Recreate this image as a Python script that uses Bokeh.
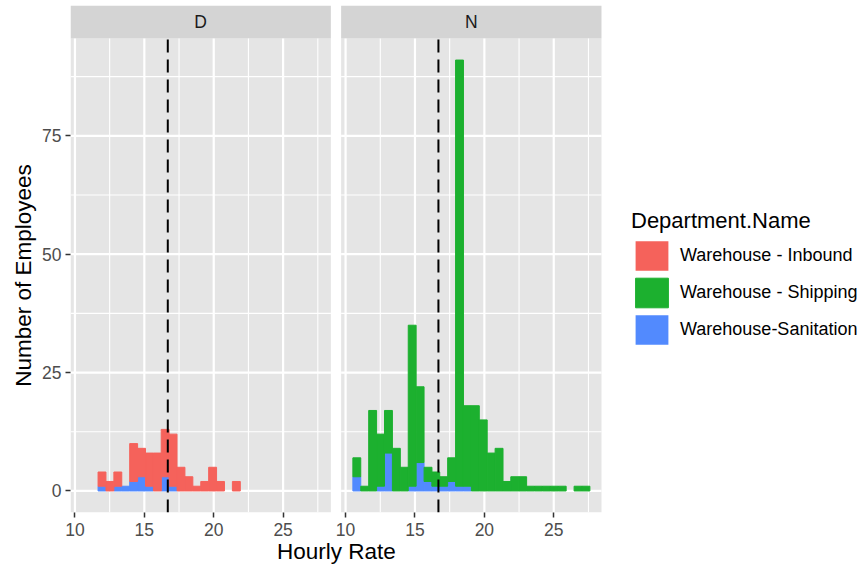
from bokeh.plotting import figure
from bokeh.models import Range1d, FixedTicker, ColumnDataSource, Legend, LegendItem, Title
from bokeh.core.properties import value
from bokeh.embed import file_html
from bokeh.resources import INLINE

# ---------------- data ----------------
bin_centers = [10.81, 11.38, 11.95, 12.52, 13.09, 13.66, 14.23, 14.80, 15.37, 15.94,
               16.50, 17.07, 17.64, 18.21, 18.78, 19.35, 19.92, 20.49, 21.06, 21.63,
               22.19, 22.76, 23.33, 23.90, 24.47, 25.04, 25.61, 26.18, 26.75, 27.32]
bin_width = 0.569
departments = ["Warehouse - Inbound", "Warehouse - Shipping", "Warehouse-Sanitation"]
facets = ["D", "N"]

D_inbound    = [0, 0, 3, 2, 3, 0, 8, 6, 7, 8, 10, 11, 5, 3, 1, 2, 5, 2, 0, 2, 0, 0, 0, 0, 0, 0, 0, 0, 0, 0]
D_shipping   = [0, 0, 0, 0, 0, 0, 0, 0, 0, 0, 0, 0, 0, 0, 0, 0, 0, 0, 0, 0, 0, 0, 0, 0, 0, 0, 0, 0, 0, 0]
D_sanitation = [0, 0, 1, 0, 1, 1, 2, 3, 1, 0, 3, 1, 0, 0, 0, 0, 0, 0, 0, 0, 0, 0, 0, 0, 0, 0, 0, 0, 0, 0]

N_inbound    = [0, 0, 0, 0, 0, 0, 0, 0, 0, 0, 0, 0, 0, 0, 0, 0, 0, 0, 0, 0, 0, 0, 0, 0, 0, 0, 0, 0, 0, 0]
N_shipping   = [4, 1, 17, 11, 9, 9, 5, 34, 16, 3, 3, 2, 5, 90, 17, 18, 15, 8, 9, 2, 3, 3, 1, 1, 1, 1, 1, 0, 1, 1]
N_sanitation = [3, 0, 0, 1, 8, 0, 0, 1, 6, 2, 1, 1, 2, 1, 1, 0, 0, 0, 0, 0, 0, 0, 0, 0, 0, 0, 0, 0, 0, 0]

mean_rate = 16.69

x_ticks = [10, 15, 20, 25]
x_minor = [12.5, 17.5, 22.5, 27.5]
y_ticks = [0, 25, 50, 75]
y_minor = [12.5, 37.5, 62.5, 87.5]

# ---------------- styling / layout ----------------
RED, GREEN, BLUE = "#F5625B", "#1CB02F", "#528AFE"
PANEL_BG, STRIP_BG = "#E5E5E5", "#D4D4D4"
FONT = "Liberation Sans"

XL, XR = 9.68, 28.44          # panel x limits
YB, YT = -4.55, 95.55         # panel y limits
STRIP_TOP = 102.52            # top of facet strip
OFF = 19.5                    # horizontal shift of the second facet
X_END = 66.53                 # right end of the drawing area (legend lives there)

p = figure(width=859, height=569, output_backend="svg", toolbar_location=None, title=None,
           x_range=Range1d(XL, X_END), y_range=Range1d(YB, STRIP_TOP),
           min_border_left=70, min_border_right=0, min_border_top=5, min_border_bottom=57,
           background_fill_color="white", border_fill_color="white")
p.outline_line_color = None
p.extra_x_ranges = {"N": Range1d(XL - OFF, X_END - OFF)}
p.xgrid.visible = False
p.ygrid.visible = False

panel_data = {
    "D": ("default", D_inbound, D_shipping, D_sanitation),
    "N": ("N", N_inbound, N_shipping, N_sanitation),
}
stacks = {}
for facet in facets:
    rname, inb, shp, san = panel_data[facet]
    p.quad(left=[XL], right=[XR], bottom=[YB], top=[YT], fill_color=PANEL_BG,
           line_color=None, x_range_name=rname)
    p.quad(left=[XL], right=[XR], bottom=[YT], top=[STRIP_TOP], fill_color=STRIP_BG,
           line_color=None, x_range_name=rname)
    # grid
    p.segment(x0=x_minor, x1=x_minor, y0=YB, y1=YT, line_color="white", line_width=1.1,
              x_range_name=rname)
    p.segment(x0=XL, x1=XR, y0=y_minor, y1=y_minor, line_color="white", line_width=1.1,
              x_range_name=rname)
    p.segment(x0=x_ticks, x1=x_ticks, y0=YB, y1=YT, line_color="white", line_width=2.2,
              x_range_name=rname)
    p.segment(x0=XL, x1=XR, y0=y_ticks, y1=y_ticks, line_color="white", line_width=2.2,
              x_range_name=rname)
    # strip label
    p.text(x=[(XL + XR) / 2], y=[(YT + STRIP_TOP) / 2], text=[facet],
           text_font=value(FONT), text_font_size="17.5px", text_color="#1A1A1A",
           text_align="center", text_baseline="middle", x_range_name=rname)
    # stacked histogram (thin same-colour outline only on non-empty bars, to avoid seams)
    src = ColumnDataSource(dict(
        x=bin_centers, inb=inb, shp=shp, san=san,
        inb_la=[1 if v > 0 else 0 for v in inb],
        shp_la=[1 if v > 0 else 0 for v in shp],
        san_la=[1 if v > 0 else 0 for v in san],
    ))
    stacks[facet] = p.vbar_stack(["san", "shp", "inb"], x="x", width=bin_width,
                                 fill_color=[BLUE, GREEN, RED], line_color=[BLUE, GREEN, RED],
                                 line_alpha=["san_la", "shp_la", "inb_la"], line_width=1.0,
                                 source=src, x_range_name=rname)
    # mean line
    p.segment(x0=[mean_rate], x1=[mean_rate], y0=[YB], y1=[YT], line_color="black",
              line_width=2, line_dash="13 7", x_range_name=rname)

# axes
p.xaxis.ticker = FixedTicker(ticks=x_ticks + [t + OFF for t in x_ticks], minor_ticks=[])
p.xaxis.major_label_overrides = {t + OFF: str(t) for t in x_ticks}
p.yaxis.ticker = FixedTicker(ticks=y_ticks, minor_ticks=[])
for ax in (p.xaxis[0], p.yaxis[0]):
    ax.axis_line_color = None
    ax.major_tick_in = 0
    ax.major_tick_out = 5
    ax.major_tick_line_color = "#333333"
    ax.major_tick_line_width = 1.5
    ax.minor_tick_line_color = None
    ax.major_label_text_font = FONT
    ax.major_label_text_font_size = "17.5px"
    ax.major_label_text_color = "#4D4D4D"
p.xaxis.major_label_standoff = 5
p.yaxis.major_label_standoff = 4

# axis titles, centred on the panel area
xt = Title(text="Hourly Rate", align="left", offset=206.5, standoff=0, vertical_align="top",
           text_font=FONT, text_font_size="22.5px", text_font_style="normal", text_color="black")
p.add_layout(xt, "below")
yt = Title(text="Number of Employees", align="left", offset=125.7, standoff=6,
           vertical_align="middle", text_font=FONT, text_font_size="22.5px",
           text_font_style="normal", text_color="black")
p.add_layout(yt, "left")

# legend
items = [
    LegendItem(label=departments[0], renderers=[stacks["D"][2]]),
    LegendItem(label=departments[1], renderers=[stacks["N"][1]]),
    LegendItem(label=departments[2], renderers=[stacks["D"][0]]),
]
legend = Legend(items=items, location=(561, 164), title="Department.Name",
                title_text_font=FONT, title_text_font_size="22px", title_text_font_style="normal",
                title_text_color="black", title_standoff=3,
                label_text_font=FONT, label_text_font_size="18px", label_text_color="black",
                glyph_width=41, glyph_height=37, spacing=0, label_standoff=8,
                padding=0, margin=0, border_line_color=None, background_fill_alpha=0)
p.add_layout(legend)

open("out.html", "w").write(file_html(p, INLINE))
